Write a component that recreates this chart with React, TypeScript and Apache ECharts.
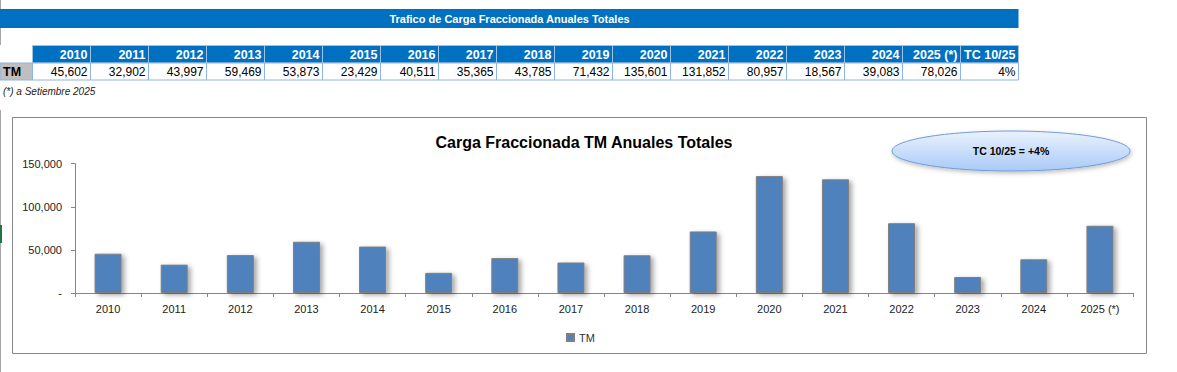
import React, { useEffect, useRef } from "react";
import * as echarts from "echarts";

const categories = ["2010", "2011", "2012", "2013", "2014", "2015", "2016", "2017", "2018", "2019", "2020", "2021", "2022", "2023", "2024", "2025 (*)"];
const tmValues = [45602, 32902, 43997, 59469, 53873, 23429, 40511, 35365, 43785, 71432, 135601, 131852, 80957, 18567, 39083, 78026];
const tableHeaders = [...categories, "TC 10/25"];
const tcValue = "4%";
const yTicks = [0, 50000, 100000, 150000];
const pageTitle = "Trafico de Carga Fraccionada Anuales Totales";
const chartTitle = "Carga Fraccionada TM Anuales Totales";
const footnote = "(*) a Setiembre 2025";
const badgeText = "TC 10/25 = +4%";
const seriesName = "TM";

const FONT = "'Liberation Sans', Arial, sans-serif";
const fmt = (v: number) => (v === 0 ? "-" : v.toLocaleString("en-US"));

export default function App() {
  const ref = useRef<HTMLDivElement>(null);
  useEffect(() => {
    document.body.style.margin = "0";
    const chart = echarts.init(ref.current!, undefined, { renderer: "svg" });

    const colX0 = 32.5;
    const colW = 58;
    const headY = 45.5;
    const headH = 17.5;
    const rowY = 63;
    const rowH = 17;

    const tableCells: any[] = [];
    const rowTexts = [...tmValues.map(fmt), tcValue];
    tableHeaders.forEach((h, i) => {
      const x = colX0 + i * colW;
      tableCells.push({
        type: "rect",
        shape: { x, y: headY, width: colW, height: headH },
        style: { fill: "#0070C0", stroke: "#9DC3E6", lineWidth: 1 },
      });
      tableCells.push({
        type: "text",
        x: x + colW - 3,
        y: headY + headH / 2 + 0.5,
        style: { text: h, fill: "#FFFFFF", font: `bold 12.5px ${FONT}`, align: "right", verticalAlign: "middle" },
      });
      tableCells.push({
        type: "rect",
        shape: { x, y: rowY, width: colW, height: rowH },
        style: { fill: "#FFFFFF", stroke: "#8DB4E2", lineWidth: 1 },
      });
      tableCells.push({
        type: "text",
        x: x + colW - 3,
        y: rowY + rowH / 2 + 0.5,
        style: { text: rowTexts[i], fill: "#000000", font: `12px ${FONT}`, align: "right", verticalAlign: "middle" },
      });
    });

    chart.setOption({
      animation: false,
      textStyle: { fontFamily: FONT },
      title: {
        text: chartTitle,
        left: 579,
        textAlign: "center",
        top: 129,
        textStyle: { fontSize: 16, fontWeight: "bold", color: "#000", fontFamily: FONT },
      },
      legend: {
        data: [seriesName],
        left: 561,
        top: 327,
        icon: "rect",
        itemWidth: 7,
        itemHeight: 7,
        itemGap: 5,
        textStyle: { fontSize: 11, color: "#333", fontFamily: FONT },
      },
      grid: { left: 75, right: 44, top: 163.7, bottom: 79, containLabel: false },
      xAxis: {
        type: "category",
        data: categories,
        boundaryGap: true,
        axisLine: { show: true, lineStyle: { color: "#868686", width: 1 } },
        axisTick: { show: true, alignWithLabel: false, length: 4, lineStyle: { color: "#868686" } },
        axisLabel: { fontSize: 11, color: "#222", margin: 10, interval: 0, fontFamily: FONT },
      },
      yAxis: {
        type: "value",
        min: yTicks[0],
        max: yTicks[yTicks.length - 1],
        interval: yTicks[1] - yTicks[0],
        axisLine: { show: true, lineStyle: { color: "#868686", width: 1 } },
        axisTick: { show: true, length: 4, lineStyle: { color: "#868686" } },
        splitLine: { show: false },
        axisLabel: { fontSize: 11, color: "#222", margin: 13, formatter: (v: number) => fmt(v), fontFamily: FONT },
      },
      series: [
        {
          name: seriesName,
          type: "bar",
          data: tmValues,
          barWidth: 27,
          itemStyle: {
            color: "#4F81BD",
            borderColor: "#7F7F7F",
            borderWidth: 1,
            shadowColor: "rgba(0,0,0,0.35)",
            shadowBlur: 5,
            shadowOffsetX: 3,
            shadowOffsetY: 2,
          },
        },
      ],
      graphic: [
        { type: "rect", shape: { x: 0, y: 110, width: 1, height: 262 }, style: { fill: "#A6A6A6" } },
        { type: "rect", shape: { x: 0, y: 0, width: 1, height: 45 }, style: { fill: "#A6A6A6" } },
        { type: "rect", shape: { x: 0, y: 225, width: 2, height: 18 }, style: { fill: "#217346" } },
        { type: "rect", shape: { x: 0, y: 9, width: 1018.5, height: 19 }, style: { fill: "#0070C0" } },
        {
          type: "text",
          x: 509.5,
          y: 18.8,
          style: { text: pageTitle, fill: "#FFFFFF", font: `bold 11px ${FONT}`, align: "center", verticalAlign: "middle" },
        },
        ...tableCells,
        {
          type: "rect",
          shape: { x: 0, y: rowY, width: colX0, height: rowH },
          style: { fill: "#BFBFBF", stroke: "#8DB4E2", lineWidth: 1 },
        },
        {
          type: "text",
          x: 3,
          y: rowY + rowH / 2 + 0.5,
          style: { text: seriesName, fill: "#000", font: `bold 12.5px ${FONT}`, align: "left", verticalAlign: "middle" },
        },
        {
          type: "text",
          x: 3,
          y: 91,
          style: { text: footnote, fill: "#222", font: `italic 10px ${FONT}`, align: "left", verticalAlign: "middle" },
        },
        {
          type: "rect",
          shape: { x: 12.5, y: 117.5, width: 1134, height: 236 },
          style: { fill: "none", stroke: "#878787", lineWidth: 1 },
          z: -1,
        },
        {
          type: "ellipse",
          shape: { cx: 1011, cy: 151, rx: 119, ry: 20 },
          style: {
            fill: new echarts.graphic.LinearGradient(0, 0, 0, 1, [
              { offset: 0, color: "#EAF2FE" },
              { offset: 1, color: "#A9CAF7" },
            ]),
            stroke: "#6F9BD8",
            lineWidth: 1,
            shadowColor: "rgba(0,0,0,0.25)",
            shadowBlur: 4,
            shadowOffsetX: 1,
            shadowOffsetY: 2,
          },
        },
        {
          type: "text",
          x: 1011,
          y: 151,
          style: { text: badgeText, fill: "#000", font: `bold 10.5px ${FONT}`, align: "center", verticalAlign: "middle" },
        },
      ],
    });
    return () => chart.dispose();
  }, []);
  return <div ref={ref} style={{ position: "absolute", left: 0, top: 0, width: 1177, height: 372 }} />;
}
